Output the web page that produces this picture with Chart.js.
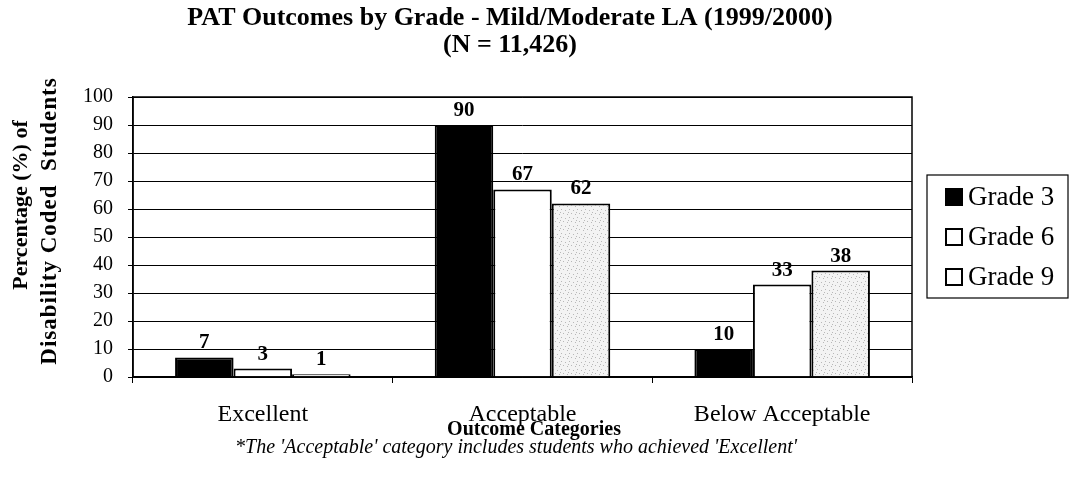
<!DOCTYPE html>
<html>
<head>
<meta charset="utf-8">
<script src="https://cdn.jsdelivr.net/npm/chart.js@4"></script>
<style>
  body { margin: 0; background: #fff; }
  #caja { width: 1072px; height: 477px; }
</style>
</head>
<body>
<div id="caja"><canvas id="grafico" width="1072" height="477"></canvas></div>
<script>
const categorias = ["Excellent", "Acceptable", "Below Acceptable"];
const grado3 = [7, 90, 10];
const grado6 = [3, 67, 33];
const grado9 = [1, 62, 38];
const nombresSeries = ["Grade 3", "Grade 6", "Grade 9"];
const ticksY = [0, 10, 20, 30, 40, 50, 60, 70, 80, 90, 100];

const serif = "'Liberation Serif', 'Times New Roman', serif";

// trama gris clara para Grade 9
function crearTrama() {
  const c = document.createElement("canvas");
  c.width = 8; c.height = 8;
  const g = c.getContext("2d");
  g.fillStyle = "#f3f3f3";
  g.fillRect(0, 0, 8, 8);
  g.fillStyle = "#b8b8b8";
  [[1, 1], [5, 2], [3, 5], [7, 6], [0, 4]].forEach(p => g.fillRect(p[0], p[1], 1, 1));
  return g.createPattern(c, "repeat");
}

const textos = {
  id: "textos",
  afterDraw(chart) {
    const ctx = chart.ctx;
    const area = chart.chartArea;
    ctx.save();

    // marco del area
    ctx.strokeStyle = "#000";
    ctx.lineWidth = 1.5;
    ctx.strokeRect(area.left, area.top, area.right - area.left, area.bottom - area.top);

    // etiquetas de valores
    ctx.fillStyle = "#000";
    ctx.textAlign = "center";
    ctx.textBaseline = "bottom";
    ctx.font = "bold 21px " + serif;
    chart.data.datasets.forEach((ds, i) => {
      chart.getDatasetMeta(i).data.forEach((barra, j) => {
        ctx.fillText(ds.data[j], barra.x, barra.y - 4);
      });
    });

    // titulo
    ctx.textBaseline = "middle";
    ctx.font = "bold 26px " + serif;
    ctx.fillText("PAT Outcomes by Grade - Mild/Moderate LA (1999/2000)", 510, 18);
    ctx.fillText("(N = 11,426)", 510, 45);

    // titulo eje x y nota
    ctx.font = "bold 20px " + serif;
    ctx.fillText("Outcome Categories", 534, 430);
    ctx.font = "italic 20px " + serif;
    ctx.fillText("*The 'Acceptable' category includes students who achieved 'Excellent'", 516, 448);

    // titulo eje y
    ctx.save();
    ctx.translate(21, 205);
    ctx.rotate(-Math.PI / 2);
    ctx.font = "bold 22px " + serif;
    ctx.fillText("Percentage (%) of", 0, 0);
    ctx.restore();
    ctx.save();
    ctx.translate(50, 221);
    ctx.rotate(-Math.PI / 2);
    ctx.font = "bold 23px " + serif;
    ctx.letterSpacing = "1px";
    ctx.fillText("Disability Coded  Students", 0, 0);
    ctx.restore();

    // leyenda
    ctx.lineWidth = 1.2;
    ctx.strokeRect(927, 175, 141, 123);
    ctx.textAlign = "left";
    ctx.font = "27px " + serif;
    const filas = [197, 237, 277];
    chart.data.datasets.forEach((ds, i) => {
      const y = filas[i];
      ctx.fillStyle = i === 0 ? "#000" : "#fff";
      ctx.fillRect(946, y - 8, 16, 16);
      ctx.lineWidth = 2;
      ctx.strokeRect(946, y - 8, 16, 16);
      ctx.fillStyle = "#000";
      ctx.fillText(ds.label, 968, y + 1);
    });
    ctx.restore();
  }
};

const ctx = document.getElementById("grafico").getContext("2d");
new Chart(ctx, {
  type: "bar",
  data: {
    labels: categorias,
    datasets: [
      { label: nombresSeries[0], data: grado3, backgroundColor: "#000", borderColor: "#000", borderWidth: 2 },
      { label: nombresSeries[1], data: grado6, backgroundColor: "#fff", borderColor: "#000", borderWidth: 2 },
      { label: nombresSeries[2], data: grado9, backgroundColor: crearTrama(), borderColor: "#000", borderWidth: 2 }
    ]
  },
  options: {
    responsive: false,
    animation: false,
    layout: { padding: { top: 97, right: 160, bottom: 20, left: 0 } },
    datasets: { bar: { categoryPercentage: 0.676, barPercentage: 1 } },
    plugins: {
      legend: { display: false },
      title: { display: false },
      tooltip: { enabled: false }
    },
    scales: {
      x: {
        offset: true,
        afterFit: s => { s.height = 80; },
        grid: { drawOnChartArea: false, color: "#000", tickLength: 6 },
        border: { color: "#000", width: 1.5 },
        ticks: { color: "#000", font: { family: serif, size: 24 }, padding: 17, maxRotation: 0, autoSkip: false }
      },
      y: {
        min: 0,
        max: 100,
        afterFit: s => { s.width = 133; },
        afterBuildTicks: s => { s.ticks = ticksY.map(v => ({ value: v })); },
        grid: { color: "#000", lineWidth: 1, tickLength: 5 },
        border: { color: "#000", width: 1.5 },
        ticks: { color: "#000", font: { family: serif, size: 20 }, padding: 15 }
      }
    }
  },
  plugins: [textos]
});
</script>
</body>
</html>
